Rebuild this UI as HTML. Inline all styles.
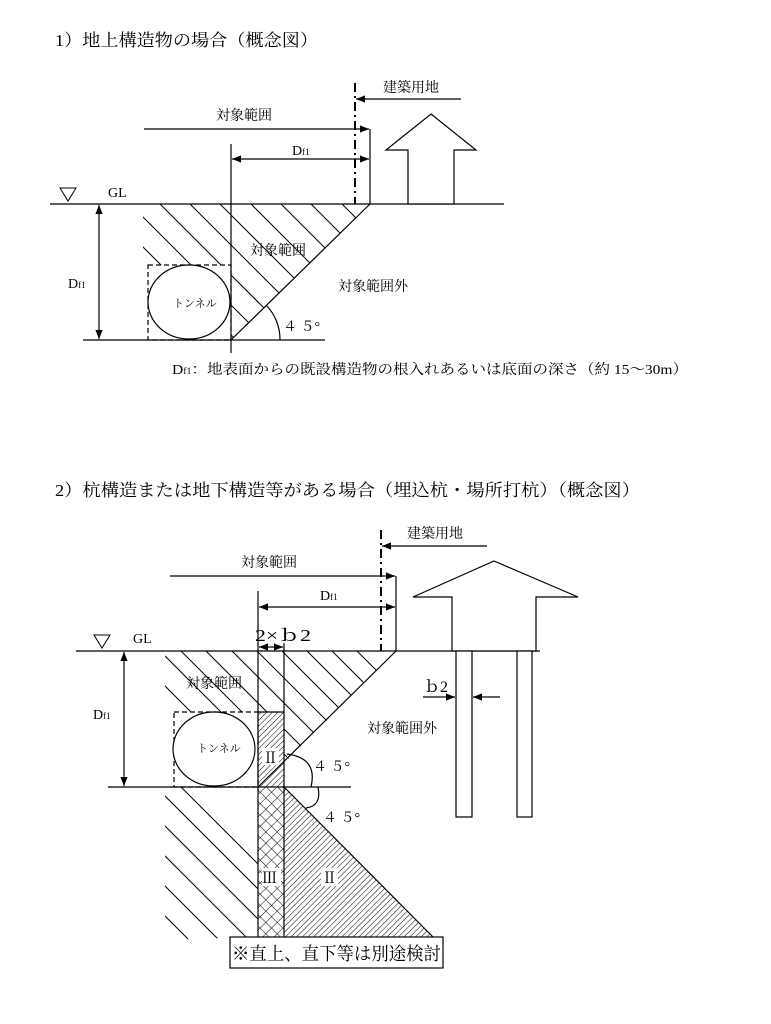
<!DOCTYPE html>
<html><head><meta charset="utf-8"><style>
html,body{margin:0;padding:0;background:#fff;}
svg{display:block;}
text{font-family:"Liberation Serif","Noto Serif CJK SC",serif;fill:#000;}
</style></head><body>
<svg width="771" height="1024" viewBox="0 0 771 1024" xmlns="http://www.w3.org/2000/svg">
<defs>
<marker id="ah" viewBox="0 0 10 10" refX="10" refY="5" markerWidth="9" markerHeight="9" orient="auto-start-reverse" markerUnits="userSpaceOnUse"><path d="M0,1 L10,5 L0,9 z" fill="#000"/></marker>
<pattern id="fine" width="4" height="4" patternUnits="userSpaceOnUse" patternTransform="rotate(45)"><line x1="0" y1="0" x2="0" y2="4" stroke="#000" stroke-width="1"/></pattern>
<pattern id="cross" width="8" height="8" patternUnits="userSpaceOnUse" patternTransform="rotate(45)"><line x1="0" y1="0" x2="0" y2="8" stroke="#000" stroke-width="1"/><line x1="0" y1="0" x2="8" y2="0" stroke="#000" stroke-width="1"/></pattern>
<clipPath id="c1"><polygon points="143,204 370,204 231,340 231,265 143,265"/></clipPath>
<clipPath id="c2"><polygon points="165,651 396,651 284,763 284,712 165,712"/></clipPath>
<clipPath id="c3"><polygon points="165,787 258,787 258,937 165,940"/></clipPath>
</defs>

<text x="55" y="46" font-size="17" textLength="263" lengthAdjust="spacingAndGlyphs">1）地上構造物の場合（概念図）</text>

<g clip-path="url(#c1)" stroke="#000" stroke-width="1">
<line x1="40" y1="204" x2="240" y2="404"/>
<line x1="70" y1="204" x2="270" y2="404"/>
<line x1="100" y1="204" x2="300" y2="404"/>
<line x1="130" y1="204" x2="330" y2="404"/>
<line x1="160" y1="204" x2="360" y2="404"/>
<line x1="190" y1="204" x2="390" y2="404"/>
<line x1="220" y1="204" x2="420" y2="404"/>
<line x1="251" y1="204" x2="451" y2="404"/>
<line x1="281" y1="204" x2="481" y2="404"/>
<line x1="311" y1="204" x2="511" y2="404"/>
<line x1="342" y1="204" x2="542" y2="404"/>
</g>
<g stroke="#000" stroke-width="1.2" fill="none">
<line x1="50" y1="204" x2="504" y2="204"/>
<line x1="83" y1="340" x2="325" y2="340"/>
<line x1="231" y1="144" x2="231" y2="353"/>
<line x1="370" y1="129" x2="370" y2="204"/>
<line x1="370" y1="204" x2="231" y2="340"/>
<line x1="355" y1="83" x2="355" y2="204" stroke-width="2" stroke-dasharray="9,4,2,4"/>
<line x1="144" y1="129" x2="369" y2="129" marker-end="url(#ah)"/>
<line x1="232" y1="159" x2="369" y2="159" marker-start="url(#ah)" marker-end="url(#ah)"/>
<line x1="461" y1="99" x2="356" y2="99" marker-end="url(#ah)"/>
<line x1="99" y1="205" x2="99" y2="339" marker-start="url(#ah)" marker-end="url(#ah)"/>
<polygon points="431,114 476,150 454,150 454,204 408,204 408,150 386,150" fill="#fff"/>
<rect x="148" y="265" width="83" height="75" stroke-dasharray="5,3"/>
<ellipse cx="189" cy="302" rx="41" ry="37" fill="#fff"/>
<path d="M280,340 A49,49 0 0 0 266,305"/>
<polygon points="60,188 76,188 68,201" stroke-width="1"/>
</g>
<text x="108" y="197" font-size="14">GL</text>
<text x="383" y="92" font-size="14">建築用地</text>
<text x="216" y="120" font-size="14">対象範囲</text>
<text x="292" y="155" font-size="14">D<tspan font-size="9">f1</tspan></text>
<text x="68" y="288" font-size="14">D<tspan font-size="9">f1</tspan></text>
<text x="250" y="255" font-size="14">対象範囲</text>
<text x="338" y="291" font-size="14">対象範囲外</text>
<text x="173" y="307" font-size="11">トンネル</text>
<text x="283" y="331" font-size="14">４ ５°</text>
<text x="172" y="374" font-size="14" textLength="516" lengthAdjust="spacingAndGlyphs">D<tspan font-size="9">f1</tspan>：地表面からの既設構造物の根入れあるいは底面の深さ（約 15～30m）</text>

<text x="55" y="496" font-size="17" textLength="585" lengthAdjust="spacingAndGlyphs">2）杭構造または地下構造等がある場合（埋込杭・場所打杭）（概念図）</text>

<g clip-path="url(#c2)" stroke="#000" stroke-width="1">
<line x1="70" y1="651" x2="270" y2="851"/>
<line x1="100" y1="651" x2="300" y2="851"/>
<line x1="130" y1="651" x2="330" y2="851"/>
<line x1="160" y1="651" x2="360" y2="851"/>
<line x1="181" y1="651" x2="381" y2="851"/>
<line x1="206" y1="651" x2="406" y2="851"/>
<line x1="232" y1="651" x2="432" y2="851"/>
<line x1="257" y1="651" x2="457" y2="851"/>
<line x1="282" y1="651" x2="482" y2="851"/>
<line x1="307" y1="651" x2="507" y2="851"/>
<line x1="332" y1="651" x2="532" y2="851"/>
<line x1="357" y1="651" x2="557" y2="851"/>
</g>
<g clip-path="url(#c3)" stroke="#000" stroke-width="1">
<line x1="181" y1="787" x2="381" y2="987"/>
<line x1="156" y1="787" x2="356" y2="987"/>
<line x1="126" y1="787" x2="326" y2="987"/>
<line x1="96" y1="787" x2="296" y2="987"/>
<line x1="66" y1="787" x2="266" y2="987"/>
<line x1="36" y1="787" x2="236" y2="987"/>
</g>
<rect x="258" y="712" width="26" height="75" fill="url(#fine)"/>
<rect x="258" y="787" width="26" height="150" fill="url(#cross)"/>
<polygon points="284,787 284,937 433,937" fill="url(#fine)"/>
<g stroke="#000" stroke-width="1.2" fill="none">
<line x1="76" y1="651" x2="540" y2="651"/>
<line x1="108" y1="787" x2="351" y2="787"/>
<line x1="258" y1="591" x2="258" y2="937"/>
<line x1="284" y1="643" x2="284" y2="937"/>
<line x1="258" y1="712" x2="284" y2="712"/>
<line x1="396" y1="576" x2="396" y2="651"/>
<line x1="396" y1="651" x2="258" y2="787"/>
<line x1="284" y1="787" x2="433" y2="937"/>
<line x1="381" y1="530" x2="381" y2="651" stroke-width="2" stroke-dasharray="9,4,2,4"/>
<line x1="170" y1="576" x2="395" y2="576" marker-end="url(#ah)"/>
<line x1="259" y1="607" x2="395" y2="607" marker-start="url(#ah)" marker-end="url(#ah)"/>
<line x1="487" y1="546" x2="382" y2="546" marker-end="url(#ah)"/>
<line x1="259" y1="647" x2="283" y2="647" marker-start="url(#ah)" marker-end="url(#ah)"/>
<line x1="124" y1="652" x2="124" y2="786" marker-start="url(#ah)" marker-end="url(#ah)"/>
<line x1="423" y1="697" x2="455" y2="697" marker-end="url(#ah)"/>
<line x1="500" y1="697" x2="473" y2="697" marker-end="url(#ah)"/>
<polygon points="494,561 578,597 536,597 536,651 452,651 452,597 413,597" fill="#fff"/>
<rect x="456" y="651" width="16" height="166" fill="#fff"/>
<rect x="517" y="651" width="15" height="166" fill="#fff"/>
<rect x="174" y="712" width="84" height="75" stroke-dasharray="5,3"/>
<ellipse cx="214" cy="749" rx="41" ry="37" fill="#fff"/>
<path d="M287,754 Q318,758 311,787"/>
<path d="M318,787 Q322,806 306,808"/>
<polygon points="94,635 110,635 102,648" stroke-width="1"/>
</g>
<rect x="230" y="937" width="213" height="31" fill="#fff" stroke="#000" stroke-width="1.2"/>
<text x="232" y="960" font-size="18" textLength="209" lengthAdjust="spacingAndGlyphs">※直上、直下等は別途検討</text>
<text x="133" y="643" font-size="14">GL</text>
<text x="407" y="538" font-size="14">建築用地</text>
<text x="241" y="567" font-size="14">対象範囲</text>
<text x="320" y="600" font-size="14">D<tspan font-size="9">f1</tspan></text>
<text x="93" y="719" font-size="14">D<tspan font-size="9">f1</tspan></text>
<text x="255" y="641" font-size="17" textLength="56" lengthAdjust="spacingAndGlyphs">2×ｂ2</text>
<text x="186" y="688" font-size="14">対象範囲</text>
<text x="367" y="733" font-size="14">対象範囲外</text>
<text x="424" y="692" font-size="16">ｂ2</text>
<text x="197" y="752" font-size="11">トンネル</text>
<rect x="262" y="748" width="17" height="17" fill="#fff"/>
<text x="263" y="763" font-size="15">Ⅱ</text>
<rect x="262" y="868" width="19" height="18" fill="#fff"/>
<text x="262" y="883" font-size="15">Ⅲ</text>
<rect x="321" y="868" width="17" height="18" fill="#fff"/>
<text x="322" y="883" font-size="15">Ⅱ</text>
<text x="313" y="771" font-size="14">４ ５°</text>
<text x="323" y="822" font-size="14">４ ５°</text>
</svg>
</body></html>
